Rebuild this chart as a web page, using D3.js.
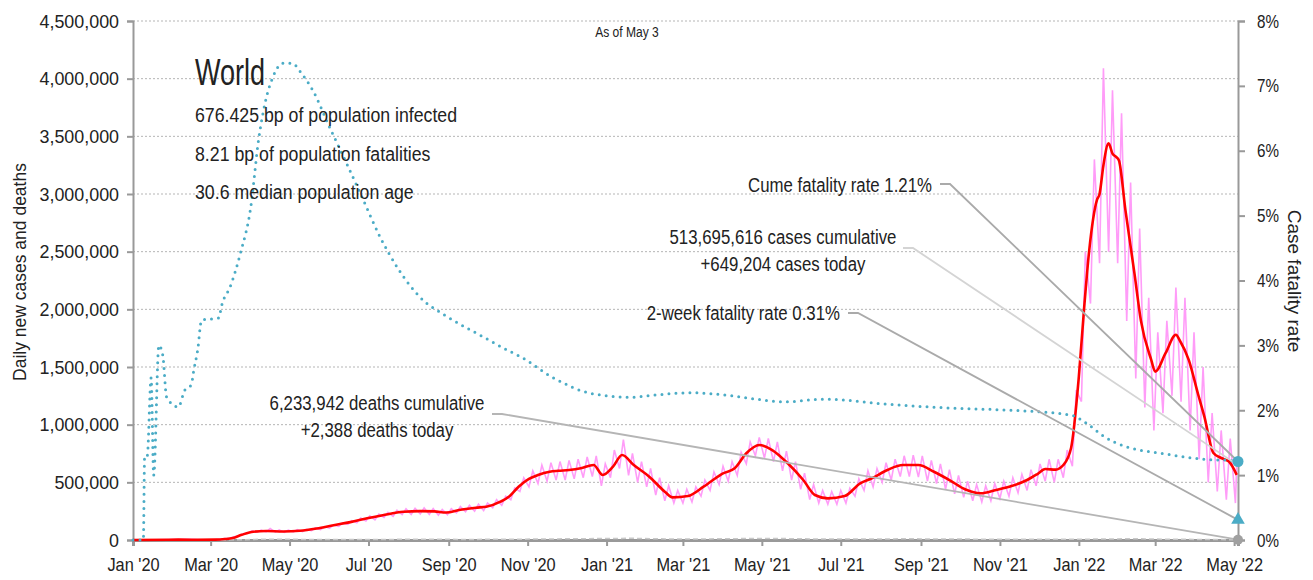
<!DOCTYPE html>
<html>
<head>
<meta charset="utf-8">
<script src="https://cdn.jsdelivr.net/npm/d3@7"></script>
<style>
  body { margin: 0; background: #fff; }
  text { font-family: "Liberation Sans", Arial, sans-serif; fill: #222; }
</style>
</head>
<body>
<svg id="chart"></svg>
<script>
// ---- data (cases in thousands, cfr in %) ----
const avgCases = [
  ["2020-01-01", 0], ["2020-02-05", 3], ["2020-02-20", 2], ["2020-03-05", 3], ["2020-03-12", 8],
  ["2020-03-18", 17], ["2020-03-25", 45], ["2020-04-03", 72], ["2020-04-13", 78], ["2020-04-26", 74],
  ["2020-05-09", 80], ["2020-05-22", 100], ["2020-06-04", 128], ["2020-06-17", 155], ["2020-06-30", 188],
  ["2020-07-12", 215], ["2020-07-28", 245], ["2020-08-10", 250], ["2020-08-21", 248], ["2020-08-30", 238],
  ["2020-09-10", 262], ["2020-09-22", 280], ["2020-09-30", 288], ["2020-10-11", 332], ["2020-10-18", 380],
  ["2020-10-25", 462], ["2020-11-02", 530], ["2020-11-09", 564], ["2020-11-18", 592], ["2020-11-25", 600],
  ["2020-12-03", 607], ["2020-12-12", 622], ["2020-12-22", 650], ["2020-12-29", 564], ["2021-01-06", 636],
  ["2021-01-13", 737], ["2021-01-22", 650], ["2021-02-03", 549], ["2021-02-15", 419], ["2021-02-21", 370],
  ["2021-03-05", 381], ["2021-03-17", 462], ["2021-04-01", 578], ["2021-04-10", 622], ["2021-04-19", 752],
  ["2021-04-29", 824], ["2021-05-09", 780], ["2021-05-21", 665], ["2021-06-02", 520], ["2021-06-11", 390],
  ["2021-06-21", 361], ["2021-07-04", 381], ["2021-07-16", 491], ["2021-07-25", 535], ["2021-08-06", 607],
  ["2021-08-18", 650], ["2021-08-30", 650], ["2021-09-11", 592], ["2021-09-23", 520], ["2021-10-05", 440],
  ["2021-10-17", 405], ["2021-10-29", 434], ["2021-11-10", 468], ["2021-11-22", 520], ["2021-11-30", 572],
  ["2021-12-06", 615], ["2021-12-14", 610], ["2021-12-20", 650], ["2021-12-26", 798], ["2022-01-01", 1416],
  ["2022-01-05", 2000], ["2022-01-09", 2510], ["2022-01-15", 2950], ["2022-01-17", 3000], ["2022-01-20", 3250],
  ["2022-01-24", 3440], ["2022-01-27", 3350], ["2022-01-30", 3320], ["2022-02-01", 3290], ["2022-02-06", 2860],
  ["2022-02-13", 2310], ["2022-02-18", 1900], ["2022-02-26", 1560], ["2022-03-01", 1460], ["2022-03-09", 1620],
  ["2022-03-17", 1780], ["2022-03-20", 1730], ["2022-03-27", 1560], ["2022-04-03", 1270], ["2022-04-08", 1070],
  ["2022-04-15", 754], ["2022-04-21", 711], ["2022-04-27", 680], ["2022-05-03", 565]
];

// daily cases: early values, then one low (Mon) and one high (Thu) per week from 2020-03-09
const dailyEarly = [["2020-01-01", 0], ["2020-02-03", 3], ["2020-02-13", 5], ["2020-02-24", 1], ["2020-03-05", 3]];
const dailyWeekStart = "2020-03-09";
const dailyLow = [
  5, 13, 35, 60, 68, 70, 68, 66, 70, 72, 82, 90, 102, 118, 135, 150, 165, 175, 195, 205, 220, 222,
  225, 222, 215, 220, 235, 245, 250, 255, 280, 300, 350, 420, 460, 490, 510, 520, 520, 530, 540, 550, 470,
  540, 620, 560, 500, 460, 390, 340, 320, 320, 330, 380, 430, 480, 510, 560, 660, 730, 710, 680, 600, 520,
  440, 350, 320, 310, 310, 320, 380, 430, 460, 500, 520, 550, 550, 545, 510, 490, 440, 400, 370, 340, 330,
  340, 360, 380, 410, 430, 470, 510, 500, 540, 640,
  1200, 2050, 2400, 2500, 2400, 1900, 1400, 1150, 950, 1100, 1250, 1200, 950, 700, 500, 420, 350, 320
];
const dailyHigh = [
  12, 28, 55, 80, 85, 100, 88, 85, 90, 92, 105, 115, 130, 148, 168, 190, 210, 225, 240, 258, 270, 275,
  278, 272, 265, 272, 290, 300, 310, 320, 350, 380, 450, 540, 600, 650, 670, 680, 690, 700, 720, 730, 660,
  780, 870, 750, 680, 620, 540, 470, 430, 440, 460, 520, 590, 640, 680, 760, 850, 890, 880, 850, 770, 680,
  580, 480, 430, 420, 430, 450, 530, 600, 620, 670, 700, 730, 735, 730, 690, 660, 610, 560, 510, 480, 470,
  490, 510, 540, 570, 610, 660, 700, 700, 780, 1300,
  2500, 3300, 4090, 3900, 3700, 3100, 2700, 2100, 1800, 1900, 2190, 2100, 1800, 1500, 1100, 950, 880
];
const casesToday = ["2022-05-03", 649.204];

const avgDeaths = [
  ["2020-01-01", 0], ["2020-02-10", 0.1], ["2020-03-10", 0.4], ["2020-03-25", 2.5], ["2020-04-10", 6.5],
  ["2020-04-20", 7], ["2020-05-15", 4.8], ["2020-06-15", 4.5], ["2020-07-15", 5.3], ["2020-08-15", 5.8],
  ["2020-09-15", 5.3], ["2020-10-15", 5.7], ["2020-11-15", 9], ["2020-12-15", 11.3], ["2021-01-20", 14.5],
  ["2021-02-20", 9], ["2021-03-15", 8.8], ["2021-04-25", 13], ["2021-05-15", 12.5], ["2021-06-15", 8.7],
  ["2021-07-10", 7.8], ["2021-08-20", 10.2], ["2021-09-15", 9], ["2021-10-20", 7], ["2021-11-20", 7],
  ["2021-12-20", 6.5], ["2022-01-20", 8], ["2022-02-10", 11], ["2022-03-10", 7], ["2022-04-10", 4.3],
  ["2022-05-03", 2.4]
];

const cfr = [
  ["2020-01-01", 0], ["2020-01-09", 0], ["2020-01-10", 1.3], ["2020-01-12", 1.3], ["2020-01-15", 2.5],
  ["2020-01-17", 1.0], ["2020-01-21", 3.0], ["2020-01-24", 2.85], ["2020-01-27", 2.2], ["2020-02-05", 2.05],
  ["2020-02-10", 2.31], ["2020-02-15", 2.39], ["2020-02-17", 2.62], ["2020-02-20", 2.93], ["2020-02-23", 3.39],
  ["2020-03-07", 3.42], ["2020-03-10", 3.65], ["2020-03-16", 3.9], ["2020-03-24", 4.42], ["2020-04-01", 5.13],
  ["2020-04-07", 6.16], ["2020-04-12", 6.73], ["2020-04-18", 7.13], ["2020-04-26", 7.35], ["2020-05-03", 7.35],
  ["2020-05-10", 7.2], ["2020-05-19", 6.93], ["2020-06-01", 6.36], ["2020-06-14", 5.81], ["2020-06-27", 5.24],
  ["2020-07-10", 4.67], ["2020-07-23", 4.21], ["2020-08-10", 3.74], ["2020-08-31", 3.44], ["2020-09-25", 3.16],
  ["2020-10-16", 2.93], ["2020-10-27", 2.82], ["2020-11-20", 2.51], ["2020-12-20", 2.26], ["2021-01-19", 2.2],
  ["2021-02-05", 2.23], ["2021-03-07", 2.27], ["2021-04-05", 2.23], ["2021-05-01", 2.16], ["2021-05-19", 2.13],
  ["2021-06-17", 2.17], ["2021-07-02", 2.16], ["2021-08-01", 2.1], ["2021-08-31", 2.06], ["2021-09-29", 2.03],
  ["2021-10-29", 2.01], ["2021-11-28", 1.98], ["2021-12-27", 1.92], ["2022-01-03", 1.85], ["2022-01-09", 1.77],
  ["2022-01-21", 1.59], ["2022-02-06", 1.44], ["2022-02-16", 1.39], ["2022-03-01", 1.35], ["2022-03-14", 1.31],
  ["2022-03-27", 1.27], ["2022-04-10", 1.24], ["2022-04-26", 1.23], ["2022-05-03", 1.21]
];

const yTicks = [0, 500000, 1000000, 1500000, 2000000, 2500000, 3000000, 3500000, 4000000, 4500000];
const rTicks = [0, 1, 2, 3, 4, 5, 6, 7, 8];
const infoLines = ["676.425 bp of population infected", "8.21 bp of population fatalities", "30.6 median population age"];
const endValues = { cumeCfr: 1.21, twoWeekCfr: 0.31, casesToday: 649204, deathsToday: 2388 };

// ---- layout ----
const width = 1313, height = 580;
const marginLeft = 133, axisRight = 1238, plotTop = 21, plotBottom = 540;
const parse = d3.timeParse("%Y-%m-%d");

const x = d3.scaleTime().domain([parse("2020-01-01"), parse("2022-05-04")]).range([marginLeft, axisRight]);
const y = d3.scaleLinear().domain([0, 4500000]).range([plotBottom, plotTop]);
const yR = d3.scaleLinear().domain([0, 8]).range([plotBottom, plotTop]);

const svg = d3.select("#chart").attr("width", width).attr("height", height);

// narrow the text horizontally (the original uses a condensed face)
function squeeze(sel, k) {
  sel.each(function () {
    const len = this.getComputedTextLength();
    this.setAttribute("textLength", len * k);
    this.setAttribute("lengthAdjust", "spacingAndGlyphs");
  });
}

// gridlines
svg.append("g").selectAll("line").data(yTicks.slice(1)).join("line")
  .attr("x1", marginLeft).attr("x2", axisRight)
  .attr("y1", d => y(d)).attr("y2", d => y(d))
  .attr("stroke", "#b5b5b5").attr("stroke-width", 1).attr("stroke-dasharray", "2,2");

// left axis
const gL = svg.append("g").attr("transform", `translate(${marginLeft},0)`)
  .call(d3.axisLeft(y).tickValues(yTicks).tickFormat(d3.format(",")).tickSize(6).tickPadding(8));
gL.select(".domain").attr("stroke", "#999").attr("stroke-width", 2);
gL.selectAll(".tick line").attr("stroke", "#999").attr("stroke-width", 2);
gL.selectAll(".tick text").style("font-size", "19px").attr("fill", "#222").call(squeeze, 0.94);

// right axis
const gR = svg.append("g").attr("transform", `translate(${axisRight},0)`)
  .call(d3.axisRight(yR).tickValues(rTicks).tickFormat(d => d + "%").tickSize(7).tickPadding(12));
gR.select(".domain").attr("stroke", "#999").attr("stroke-width", 2);
gR.selectAll(".tick line").attr("stroke", "#999").attr("stroke-width", 2);
gR.selectAll(".tick text").style("font-size", "19px").attr("fill", "#4bacc6").call(squeeze, 0.8);

// x axis
const gX = svg.append("g").attr("transform", `translate(0,${plotBottom})`)
  .call(d3.axisBottom(x).ticks(d3.timeMonth.every(2)).tickFormat(d3.timeFormat("%b '%y")).tickSize(6).tickPadding(12));
gX.select(".domain").attr("stroke", "#999").attr("stroke-width", 3);
gX.selectAll(".tick line").attr("stroke", "#999").attr("stroke-width", 2);
gX.selectAll(".tick text").style("font-size", "19px").attr("fill", "#222").call(squeeze, 0.86);

// axis titles
svg.append("text")
  .attr("transform", `translate(26,272) rotate(-90)`)
  .attr("text-anchor", "middle").style("font-size", "17.5px").text("Daily new cases and deaths");
svg.append("text")
  .attr("transform", `translate(1288,281) rotate(90)`)
  .attr("text-anchor", "middle").style("font-size", "19px").attr("fill", "#4bacc6").text("Case fatality rate");

svg.append("text").attr("x", 627).attr("y", 37).attr("text-anchor", "middle")
  .style("font-size", "14px").text("As of May 3").call(squeeze, 0.86);

// series
const daily = dailyEarly.map(d => [parse(d[0]), d[1]]);
const wk0 = parse(dailyWeekStart);
dailyLow.forEach((v, i) => {
  daily.push([d3.timeDay.offset(wk0, 7 * i), v]);
  if (i < dailyHigh.length) daily.push([d3.timeDay.offset(wk0, 7 * i + 3), dailyHigh[i]]);
});
daily.push([parse(casesToday[0]), casesToday[1]]);

const lineK = d3.line().x(d => x(d[0])).y(d => y(d[1] * 1000));

svg.append("path").datum(avgDeaths.map(d => [parse(d[0]), d[1]]))
  .attr("d", lineK).attr("fill", "none").attr("stroke", "#c8c8c8")
  .attr("stroke-width", 1.5).attr("stroke-dasharray", "5,3");

svg.append("path").datum(daily)
  .attr("d", lineK).attr("fill", "none").attr("stroke", "#ff9cf8").attr("stroke-width", 1.6);

svg.append("path").datum(avgCases.map(d => [parse(d[0]), d[1]]))
  .attr("d", lineK.curve(d3.curveMonotoneX)).attr("fill", "none")
  .attr("stroke", "#ff0000").attr("stroke-width", 2.6).attr("stroke-linejoin", "round");

svg.append("path").datum(cfr.map(d => [parse(d[0]), d[1]]))
  .attr("d", d3.line().x(d => x(d[0])).y(d => yR(d[1])).curve(d3.curveMonotoneX))
  .attr("fill", "none").attr("stroke", "#4bacc6").attr("stroke-width", 3)
  .attr("stroke-linecap", "round").attr("stroke-dasharray", "0,7");

// title block
svg.append("text").attr("x", 195).attr("y", 85).style("font-size", "37px").attr("fill", "#111")
  .text("World").call(squeeze, 0.73);
svg.append("g").selectAll("text").data(infoLines).join("text")
  .attr("x", 195).attr("y", (d, i) => 122 + i * 38.5)
  .style("font-size", "20px").text(d => d).call(squeeze, 0.886);

// annotations
const annots = [
  { lines: ["Cume fatality rate 1.21%"], tx: 932, ty: 192, anchor: "end", sx: 940, sy: 184, ey: yR(endValues.cumeCfr), color: "#aaaaaa" },
  { lines: ["513,695,616 cases cumulative", "+649,204 cases today"], tx: 783, ty: 244, anchor: "middle", sx: 903, sy: 248, ey: y(endValues.casesToday), color: "#d4d4d4" },
  { lines: ["2-week fatality rate 0.31%"], tx: 840, ty: 320, anchor: "end", sx: 848, sy: 313, ey: yR(endValues.twoWeekCfr), color: "#aaaaaa" },
  { lines: ["6,233,942 deaths cumulative", "+2,388 deaths today"], tx: 377, ty: 410, anchor: "middle", sx: 492, sy: 414, ey: y(endValues.deathsToday), color: "#b5b5b5" }
];
annots.forEach(a => {
  svg.append("path")
    .attr("d", `M${a.sx},${a.sy}H${a.sx + 10}L${axisRight},${a.ey}`)
    .attr("fill", "none").attr("stroke", a.color).attr("stroke-width", 1.8);
  a.lines.forEach((t, i) => {
    svg.append("text").attr("x", a.tx).attr("y", a.ty + i * 26.5)
      .attr("text-anchor", a.anchor).style("font-size", "20px").text(t).call(squeeze, 0.84);
  });
});

// end markers
svg.append("circle").attr("cx", axisRight).attr("cy", yR(endValues.cumeCfr)).attr("r", 5.5).attr("fill", "#4bacc6");
svg.append("path").attr("d", d3.symbol(d3.symbolTriangle, 80)())
  .attr("transform", `translate(${axisRight},${yR(endValues.twoWeekCfr)})`).attr("fill", "#4bacc6");
svg.append("circle").attr("cx", axisRight).attr("cy", y(endValues.deathsToday)).attr("r", 5).attr("fill", "#a0a0a0");
</script>
</body>
</html>
